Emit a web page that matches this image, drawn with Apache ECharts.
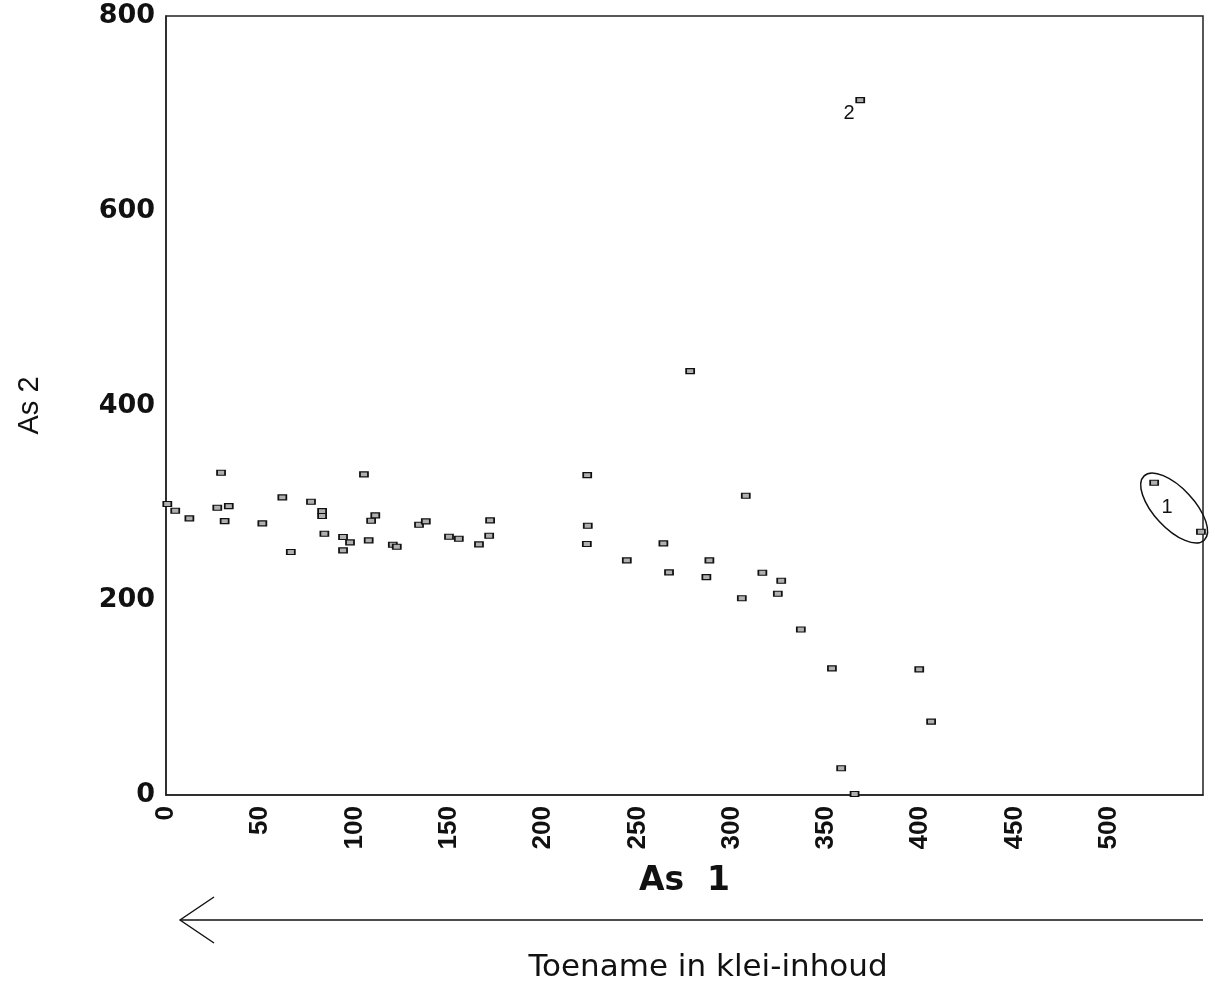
<!DOCTYPE html>
<html>
<head>
<meta charset="utf-8">
<style>
html,body{margin:0;padding:0;background:#fff;}
#chart{width:1215px;height:986px;}
</style>
<script src="https://cdn.jsdelivr.net/npm/echarts@6/dist/echarts.min.js"></script>
</head>
<body>
<div id="chart"></div>
<script>
// Data
const as1 = [0.7, 4.9, 12.4, 29.2, 27.2, 33.3, 31.1, 51.1, 61.7, 66.2, 76.9, 82.8, 82.8, 84.0, 93.9, 93.9, 97.6, 105.0, 108.8, 111.0, 107.5, 120.3, 122.4, 134.2, 137.8, 150.1, 155.3, 166.0, 171.4, 171.9,
  223.4, 223.7, 223.2, 244.4, 263.8, 266.8, 288.2, 286.6, 307.5, 305.4, 316.3, 326.3, 324.5, 336.7, 353.2, 358.1, 365.2, 399.5, 405.8, 278.0, 368.2, 524.1, 548.9];
const as2 = [298.8, 291.9, 284.1, 330.9, 295.0, 296.7, 281.3, 279.0, 305.6, 249.5, 301.1, 291.5, 286.5, 268.3, 264.9, 251.2, 259.4, 329.3, 281.6, 287.2, 261.5, 257.0, 254.9, 277.5, 281.0, 265.2, 263.1, 257.4, 266.2, 282.0,
  328.5, 276.5, 257.7, 241.0, 258.4, 228.6, 241.0, 223.8, 307.3, 202.0, 228.2, 220.0, 206.7, 170.0, 130.0, 27.4, 1.0, 129.0, 75.3, 435.3, 713.6, 320.6, 270.3];
const xTicks = [0, 50, 100, 150, 200, 250, 300, 350, 400, 450, 500];
const yTicks = [0, 200, 400, 600, 800];
const groupLabels = ['1', '2'];
const groupLabelPos = [[531, 295.7], [362.3, 700]];
const groupEllipseCenter = [534.7, 294.7];
const xName = 'As  1';
const yName = 'As 2';
const caption = 'Toename in klei-inhoud';

const points = as1.map((x, i) => [x, as2[i]]);

const chart = echarts.init(document.getElementById('chart'), null, {renderer: 'canvas'});
const option = {
  backgroundColor: '#ffffff',
  animation: false,
  grid: {left: 166, right: 12, top: 16, bottom: 191, show: true, borderColor: '#222', borderWidth: 1.5, containLabel: false, outerBoundsMode: 'none'},
  xAxis: {
    type: 'value', min: 0, max: 550, interval: 50,
    name: xName, nameLocation: 'middle', nameGap: 70,
    nameTextStyle: {fontFamily: 'DejaVu Sans', fontWeight: 'bold', fontSize: 33, color: '#111'},
    axisLine: {show: true, onZero: false, lineStyle: {color: '#222', width: 1.5}},
    axisTick: {show: false},
    splitLine: {show: false},
    axisLabel: {
      rotate: 90, margin: 11, fontFamily: 'Liberation Sans', fontWeight: 'bold', fontSize: 26, color: '#111',
      showMaxLabel: false,
      formatter: v => xTicks.indexOf(v) >= 0 ? String(v) : ''
    }
  },
  yAxis: {
    type: 'value', min: 0, max: 800, interval: 200,
    name: yName, nameLocation: 'middle', nameGap: 122, nameRotate: 90,
    nameTextStyle: {fontFamily: 'Liberation Sans', fontSize: 29, color: '#111'},
    axisLine: {show: true, onZero: false, lineStyle: {color: '#222', width: 1.5}},
    axisTick: {show: false},
    splitLine: {show: false},
    axisLabel: {
      margin: 11, fontFamily: 'DejaVu Sans', fontWeight: 'bold', fontSize: 27, color: '#111',
      formatter: v => yTicks.indexOf(v) >= 0 ? String(v) : ''
    }
  },
  series: [{
    type: 'scatter',
    data: points,
    symbol: 'rect',
    symbolSize: [8, 5],
    itemStyle: {color: '#b0b0b0', borderColor: '#111', borderWidth: 1.4, opacity: 1},
    clip: false
  }]
};
chart.setOption(option);

function drawAnnotations() {
  const els = [];
  groupLabels.forEach((t, i) => {
    const p = chart.convertToPixel({gridIndex: 0}, groupLabelPos[i]);
    els.push({type: 'text', x: p[0], y: p[1], style: {text: t, fontFamily: 'Liberation Sans', fontSize: 20, fill: '#111', align: 'center', verticalAlign: 'middle'}});
  });
  const c = chart.convertToPixel({gridIndex: 0}, groupEllipseCenter);
  els.push({type: 'ellipse', x: c[0], y: c[1], rotation: -0.82, shape: {cx: 0, cy: 0, rx: 44, ry: 20}, style: {fill: 'none', stroke: '#111', lineWidth: 1.5}});
  // arrow below the axis: "Toename in klei-inhoud" (increasing to the left)
  const gx0 = chart.convertToPixel({xAxisIndex: 0}, 0);
  const gx1 = chart.convertToPixel({xAxisIndex: 0}, 550);
  const ay = 920;
  els.push({type: 'line', shape: {x1: gx0 + 14, y1: ay, x2: gx1, y2: ay}, style: {stroke: '#111', lineWidth: 1.6}});
  els.push({type: 'polyline', shape: {points: [[gx0 + 48, ay - 23], [gx0 + 14, ay], [gx0 + 48, ay + 23]]}, style: {fill: 'none', stroke: '#111', lineWidth: 1.4}});
  els.push({type: 'text', x: 708, y: 968, style: {text: caption, fontFamily: 'DejaVu Sans', fontSize: 31, fill: '#111', align: 'center', verticalAlign: 'middle'}});
  chart.setOption({graphic: {elements: els}});
}
drawAnnotations();
</script>
</body>
</html>
